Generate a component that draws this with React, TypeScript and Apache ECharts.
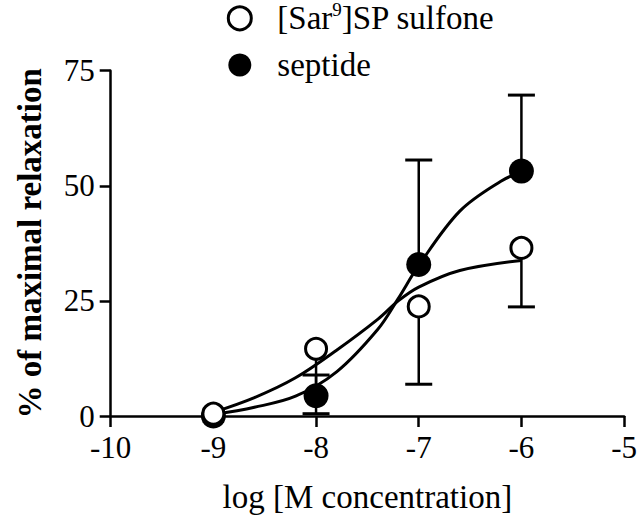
import React, { useEffect, useRef } from 'react';
import * as echarts from 'echarts';

// ---- data ----
const xTickMin = -10;
const xTickMax = -5;
const yTickMax = 75;
const yTickStep = 25;

const doses = [-9, -8, -7, -6];
const sulfoneMean = [0.5, 14.6, 23.8, 36.5];
const sulfoneErrEnd = [null, 0.5, 6.9, 23.7]; // error bars drawn downward
const septideMean = [0, 4.4, 32.9, 53.2];
const septideErrEnd = [null, 8.9, 55.6, 69.7]; // error bars drawn upward

// fitted curves
const sulfoneFitX = [-9.0, -8.6, -8.2, -7.8, -7.4, -7.2, -7.0, -6.6, -6.0];
const sulfoneFitY = [0.8, 4.0, 8.3, 14.3, 21.0, 25.0, 28.0, 31.6, 33.8];
const septideFitX = [-9.0, -8.6, -8.2, -7.8, -7.4, -7.2, -7.0, -6.6, -6.2, -6.0];
const septideFitY = [0.3, 1.9, 4.3, 9.6, 18.8, 25.5, 32.7, 44.5, 51.0, 53.0];

const SULFONE = '[Sar9]SP sulfone';
const SEPTIDE = 'septide';
const FONT = "'Liberation Serif', 'Times New Roman', 'DejaVu Serif', serif";

export default function App() {
  const ref = useRef<HTMLDivElement>(null);

  useEffect(() => {
    if (!ref.current) return;
    const chart = echarts.init(ref.current, undefined, { renderer: 'svg' });

    const errRender = (params: any, api: any) => {
      const x = api.value(0);
      const y = api.value(1);
      const e = api.value(2);
      const p0 = api.coord([x, y]);
      const p1 = api.coord([x, e]);
      const half = 13.5;
      return {
        type: 'group',
        children: [
          {
            type: 'line',
            shape: { x1: p0[0], y1: p0[1], x2: p1[0], y2: p1[1] },
            style: { stroke: '#000', lineWidth: 2.5 },
          },
          {
            type: 'line',
            shape: { x1: p1[0] - half, y1: p1[1], x2: p1[0] + half, y2: p1[1] },
            style: { stroke: '#000', lineWidth: 3 },
          },
        ],
      };
    };

    const errData = (means: number[], ends: (number | null)[]) =>
      doses
        .map((d, i) => (ends[i] == null ? null : [d, means[i], ends[i]]))
        .filter((v) => v !== null);

    const axisLine = { show: true, onZero: false, lineStyle: { color: '#000', width: 2.5 } };
    const axisTick = { show: true, length: 11, lineStyle: { color: '#000', width: 2.5 } };

    chart.setOption({
      animation: false,
      backgroundColor: '#fff',
      grid: { left: 110.7, right: 15.7, top: 70.7, bottom: 102 },
      legend: {
        orient: 'vertical',
        left: 226.8,
        top: 0.3,
        padding: 0,
        itemGap: 10.7,
        itemWidth: 23,
        itemHeight: 23,
        selectedMode: false,
        data: [
          {
            name: SULFONE,
            icon: 'circle',
            itemStyle: { color: '#fff', borderColor: '#000', borderWidth: 3 },
          },
          { name: SEPTIDE, icon: 'circle', itemStyle: { color: '#000', borderWidth: 0 } },
        ],
        formatter: (name: string) => (name === SULFONE ? '[Sar{sup|9}]SP sulfone' : name),
        textStyle: {
          fontFamily: FONT,
          fontSize: 33,
          color: '#000',
          lineHeight: 36,
          padding: [0, 0, 0, 21],
          rich: {
            sup: { fontFamily: FONT, fontSize: 19, color: '#000', lineHeight: 24, verticalAlign: 'top' },
          },
        },
      },
      xAxis: {
        type: 'value',
        min: xTickMin,
        max: xTickMax,
        interval: 1,
        name: 'log [M concentration]',
        nameLocation: 'middle',
        nameGap: 64,
        nameTextStyle: { fontFamily: FONT, fontSize: 33, color: '#000' },
        axisLine,
        axisTick,
        splitLine: { show: false },
        axisLabel: { fontFamily: FONT, fontSize: 31, color: '#000', margin: 16 },
      },
      yAxis: {
        type: 'value',
        min: 0,
        max: yTickMax,
        interval: yTickStep,
        name: '% of maximal relaxation',
        nameLocation: 'middle',
        nameGap: 64,
        nameTextStyle: { fontFamily: FONT, fontSize: 33, fontWeight: 'bold', color: '#000' },
        axisLine,
        axisTick,
        splitLine: { show: false },
        axisLabel: { fontFamily: FONT, fontSize: 31, color: '#000', margin: 16 },
      },
      series: [
        {
          name: 'sulfone fit',
          type: 'line',
          data: sulfoneFitX.map((x, i) => [x, sulfoneFitY[i]]),
          smooth: 0.35,
          showSymbol: false,
          lineStyle: { color: '#000', width: 3 },
          z: 2,
        },
        {
          name: 'septide fit',
          type: 'line',
          data: septideFitX.map((x, i) => [x, septideFitY[i]]),
          smooth: 0.35,
          showSymbol: false,
          lineStyle: { color: '#000', width: 3 },
          z: 2,
        },
        {
          name: 'sulfone err',
          type: 'custom',
          renderItem: errRender,
          data: errData(sulfoneMean, sulfoneErrEnd),
          z: 2,
        },
        {
          name: 'septide err',
          type: 'custom',
          renderItem: errRender,
          data: errData(septideMean, septideErrEnd),
          z: 2,
        },
        {
          name: SULFONE,
          type: 'scatter',
          data: doses.map((d, i) => [d, sulfoneMean[i]]),
          symbol: 'circle',
          symbolSize: 21,
          itemStyle: { color: '#fff', borderColor: '#000', borderWidth: 3, opacity: 1 },
          z: 4,
        },
        {
          name: SEPTIDE,
          type: 'scatter',
          data: doses.map((d, i) => [d, septideMean[i]]),
          symbol: 'circle',
          symbolSize: 25,
          itemStyle: { color: '#000', opacity: 1 },
          z: 3,
        },
      ],
    });

    return () => chart.dispose();
  }, []);

  return (
    <div
      ref={ref}
      style={{ position: 'fixed', left: 0, top: 0, width: 640, height: 518, background: '#fff' }}
    />
  );
}
